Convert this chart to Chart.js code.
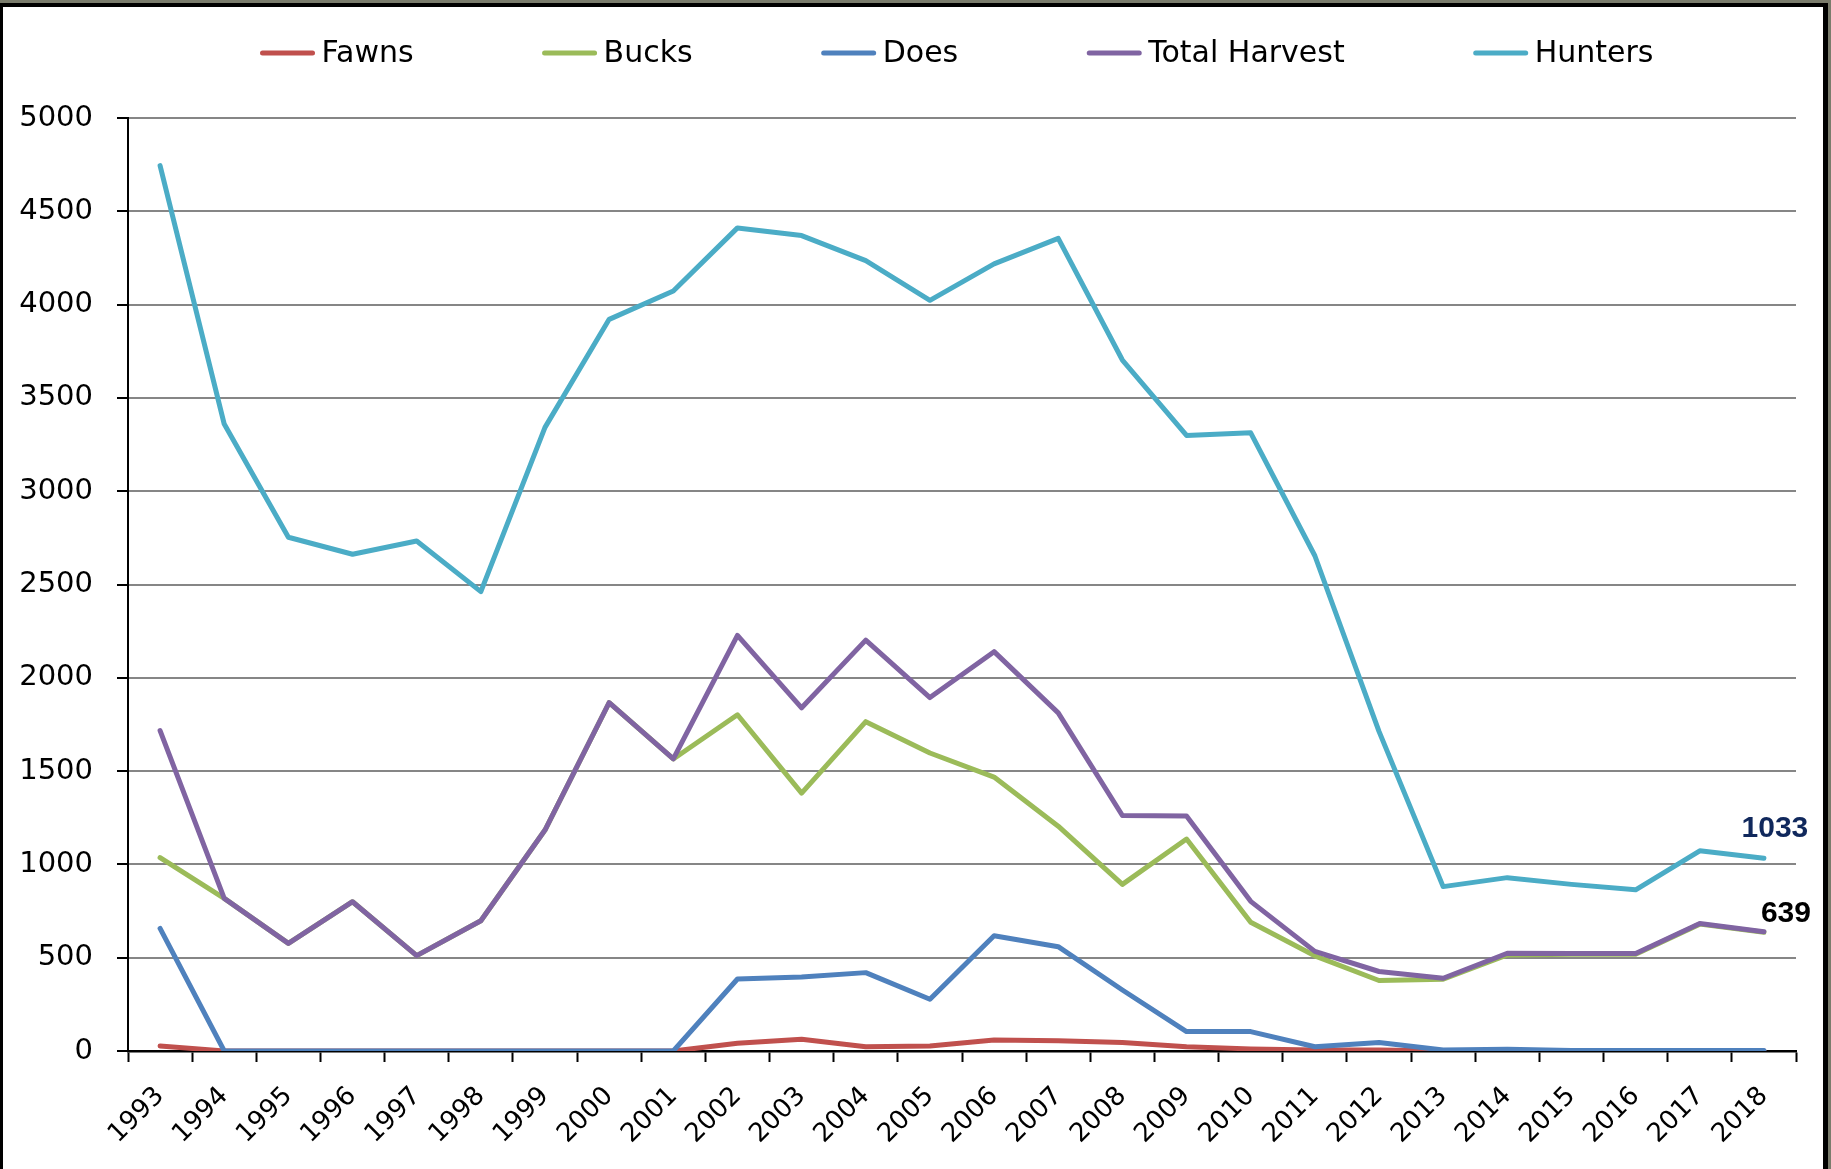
<!DOCTYPE html>
<html lang="en">
<head>
    <meta charset="UTF-8">
    <title>Harvest and Hunters</title>
    <script src="https://cdn.jsdelivr.net/npm/chart.js"></script>
    <style>
        body { margin: 0; background: #7a7c6c; }
        #frame {
            position: absolute; left: 0; top: 3px;
            width: 1828px; height: 1166px; box-sizing: border-box;
            background: #fff;
            border-left: 3px solid #000; border-top: 4px solid #000; border-right: 5px solid #000;
        }
        #harvestChart { position: absolute; left: 0; top: 0; }
    </style>
</head>
<body>
    <div id="frame"></div>
    <canvas id="harvestChart" width="1831" height="1169"></canvas>
    <script>
        const years = ['1993', '1994', '1995', '1996', '1997', '1998', '1999', '2000', '2001', '2002', '2003', '2004', '2005',
                       '2006', '2007', '2008', '2009', '2010', '2011', '2012', '2013', '2014', '2015', '2016', '2017', '2018'];

        const fawns = [27, 0, 0, 0, 0, 0, 0, 0, 0, 41, 63, 23, 27, 59, 55, 46, 23, 11, 5, 5, 0, 0, 0, 0, 0, 0];
        const bucks = [1036, 818, 577, 800, 511, 698, 1184, 1867, 1565, 1802, 1382, 1765, 1597, 1468, 1205, 893, 1136, 690, 510, 378, 385, 515, 519, 519, 680, 636];
        const does = [657, 0, 0, 0, 0, 0, 0, 0, 0, 386, 397, 420, 277, 618, 559, 327, 104, 104, 23, 46, 5, 9, 3, 3, 3, 3];
        const totalHarvest = [1717, 818, 577, 800, 511, 698, 1184, 1867, 1565, 2227, 1839, 2202, 1894, 2140, 1812, 1262, 1260, 802, 534, 426, 390, 524, 522, 522, 683, 639];
        const hunters = [4745, 3360, 2753, 2662, 2733, 2462, 3342, 3921, 4073, 4411, 4370, 4236, 4023, 4218, 4355, 3703, 3299, 3313, 2654, 1713, 881, 929, 893, 864, 1073, 1033];

        const yMax = 5000;
        const yStep = 500;

        // legend drawn as line swatches spread across the top, like the original
        const lineLegend = {
            id: 'lineLegend',
            afterDraw(chart, args, opts) {
                const ctx = chart.ctx;
                const sets = chart.data.datasets;
                ctx.save();
                ctx.font = opts.font;
                const widths = sets.map(d => opts.swatch + opts.textGap + ctx.measureText(d.label).width);
                const total = widths.reduce((a, b) => a + b, 0) + opts.itemGap * (sets.length - 1);
                let x = (chart.chartArea.left + chart.chartArea.right) / 2 + opts.shift - total / 2;
                const y = opts.y;
                ctx.textBaseline = 'middle';
                ctx.textAlign = 'left';
                sets.forEach((d, i) => {
                    ctx.strokeStyle = d.borderColor;
                    ctx.lineWidth = 5;
                    ctx.lineCap = 'round';
                    ctx.beginPath();
                    ctx.moveTo(x + 2, y);
                    ctx.lineTo(x + opts.swatch - 2, y);
                    ctx.stroke();
                    ctx.fillStyle = '#000';
                    ctx.fillText(d.label, x + opts.swatch + opts.textGap, y + 1);
                    x += widths[i] + opts.itemGap;
                });
                ctx.restore();
            }
        };

        // value label next to the last point of a series
        const endLabels = {
            id: 'endLabels',
            afterDatasetsDraw(chart) {
                const ctx = chart.ctx;
                chart.data.datasets.forEach((d, i) => {
                    if (!d.endLabel) return;
                    const meta = chart.getDatasetMeta(i);
                    const pt = meta.data[meta.data.length - 1];
                    ctx.save();
                    ctx.font = 'bold 30px "Liberation Sans"';
                    ctx.fillStyle = d.endLabel.color;
                    ctx.textAlign = 'center';
                    ctx.textBaseline = 'middle';
                    ctx.fillText(String(d.data[d.data.length - 1]), pt.x + d.endLabel.dx, pt.y + d.endLabel.dy);
                    ctx.restore();
                });
            }
        };

        function series(label, data, color, order) {
            return {
                label: label,
                data: data,
                borderColor: color,
                backgroundColor: color,
                borderWidth: 5,
                pointRadius: 0,
                borderJoinStyle: 'round',
                borderCapStyle: 'round',
                tension: 0,
                fill: false,
                order: order
            };
        }

        const datasets = [
            series('Fawns', fawns, '#C0504D', 4),
            series('Bucks', bucks, '#9BBB59', 3),
            series('Does', does, '#4F81BD', 2),
            series('Total Harvest', totalHarvest, '#8064A2', 1),
            series('Hunters', hunters, '#4BACC6', 0)
        ];
        datasets[3].endLabel = { color: '#000', dx: 22, dy: -18 };
        datasets[4].endLabel = { color: '#10285c', dx: 11, dy: -30 };

        new Chart(document.getElementById('harvestChart').getContext('2d'), {
            type: 'line',
            data: { labels: years, datasets: datasets },
            plugins: [lineLegend, endLabels],
            options: {
                responsive: false,
                animation: false,
                devicePixelRatio: 1,
                layout: { padding: { top: 118, right: 35, bottom: 0, left: 0 } },
                plugins: {
                    legend: { display: false },
                    tooltip: { enabled: false },
                    lineLegend: { font: '30px "DejaVu Sans"', swatch: 54, textGap: 7, itemGap: 129, y: 53, shift: -5 }
                },
                scales: {
                    x: {
                        offset: true,
                        grid: {
                            offset: true,
                            drawOnChartArea: false,
                            tickColor: '#000',
                            tickLength: 11,
                            tickWidth: 2
                        },
                        border: { color: '#000', width: 2.5 },
                        ticks: {
                            autoSkip: false,
                            maxRotation: 45,
                            minRotation: 45,
                            padding: 19,
                            color: '#000',
                            font: { family: 'DejaVu Sans', size: 26 }
                        },
                        afterFit(scale) { scale.height = 118; }
                    },
                    y: {
                        min: 0,
                        max: yMax,
                        grid: {
                            color: ctx => ctx.tick && ctx.tick.value === 0 ? '#000' : '#868686',
                            lineWidth: 2,
                            tickColor: '#000',
                            tickLength: 11,
                            tickWidth: 2
                        },
                        border: { color: '#000', width: 2 },
                        ticks: {
                            stepSize: yStep,
                            padding: 24,
                            color: '#000',
                            font: { family: 'DejaVu Sans', size: 29 },
                            callback: value => String(value)
                        },
                        afterFit(scale) { scale.width = 128; }
                    }
                }
            }
        });
    </script>
</body>
</html>
